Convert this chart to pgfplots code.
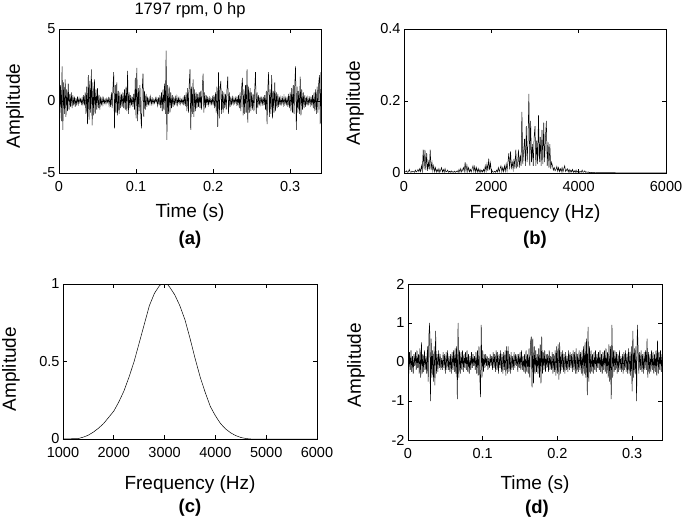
\documentclass[border=0pt]{standalone}
\usepackage{fontspec}
\setmainfont{Liberation Sans}
\usepackage{pgfplots}
\usepackage{pgfplotstable}
\pgfplotsset{compat=1.18}
\newcommand\tickfont{\fontsize{14.5}{16}\selectfont}
\newcommand\labelfont{\fontsize{19}{22}\selectfont}
\newcommand\titlefont{\fontsize{16.5}{18}\selectfont}
\newcommand\panelfont{\fontsize{18.5}{22}\selectfont\bfseries}
\pgfplotsset{
  mystyle/.style={scale only axis, anchor=south west,
    axis line style={line width=0.8pt},
    tick style={black, line width=0.6pt}, major tick length=4pt,
    tick align=inside, tick pos=both,
    ticklabel style={font=\tickfont},
    xticklabel style={yshift=-4.5pt},
    label style={font=\labelfont},
  },
  sig/.style={black, line width=0.5pt, mark=none},
}
\pgfplotstableread[row sep=\\]{
y\\
0.6\\ -0.8\\ 1.1\\ -1.4\\ 2.4\\ -2.0\\ 1.3\\ -0.9\\ 1.5\\ -1.1\\
0.8\\ -0.7\\ 1.2\\ -0.6\\ 0.5\\ -0.4\\ 0.6\\ -0.5\\ 0.4\\ -0.3\\
0.3\\ -0.4\\ 0.2\\ -0.3\\ 0.3\\ -0.2\\ 0.2\\ -0.1\\ 0.15\\ -0.2\\
0.2\\ -0.3\\ 0.4\\ -0.3\\ 0.6\\ -0.9\\ 1.0\\ -1.6\\ 1.8\\ -1.3\\
1.4\\ -0.8\\ 2.2\\ -1.7\\ 1.3\\ -1.0\\ 1.5\\ -0.9\\ 0.8\\ -0.6\\
0.9\\ -0.5\\ 0.4\\ -0.6\\ 0.3\\ -0.3\\ 0.2\\ -0.25\\ 0.2\\ -0.15\\
0.1\\ -0.2\\ 0.15\\ -0.1\\ 0.2\\ -0.3\\ 0.25\\ -0.4\\ 0.6\\ -0.5\\
0.9\\ 2.0\\ -1.9\\ 1.1\\ -0.8\\ 1.3\\ -1.0\\ 0.7\\ -0.9\\ 0.6\\
-0.5\\ 0.5\\ -0.4\\ 0.6\\ -0.5\\ 0.8\\ -0.6\\ 1.0\\ -0.7\\ 2.1\\
-0.9\\ 0.6\\ -0.5\\ 0.4\\ -0.3\\ 0.3\\ -0.4\\ 0.5\\ -0.6\\ 1.6\\
-1.2\\ 2.3\\ -1.4\\ 0.9\\ -0.7\\ 1.1\\ -0.8\\ -1.9\\ 0.8\\ 1.9\\
-1.1\\ 0.7\\ -0.6\\ 0.5\\ -0.4\\ 0.3\\ -0.3\\ 0.2\\ -0.2\\ 0.3\\
-0.2\\ 0.15\\ -0.2\\ 0.1\\ -0.15\\ 0.2\\ -0.1\\ 0.2\\ -0.3\\ 0.25\\
-0.3\\ 0.4\\ -0.5\\ 0.6\\ -0.7\\ 0.8\\ -0.6\\ 1.2\\ -0.9\\ 3.5\\
-2.7\\ 1.1\\ -0.9\\ 1.0\\ -0.8\\ 0.6\\ -0.5\\ 0.4\\ -0.4\\ 0.3\\
-0.3\\ 0.25\\ -0.2\\ 0.3\\ -0.25\\ 0.2\\ -0.15\\ 0.2\\ -0.2\\ 0.1\\
-0.15\\ 0.2\\ -0.3\\ 0.4\\ -0.35\\ 0.6\\ -0.7\\ 0.9\\ -0.8\\ 1.2\\
2.2\\ -2.0\\ 1.0\\ -0.9\\ 1.5\\ -1.1\\ 0.8\\ -0.7\\ 0.6\\ -0.5\\
0.5\\ -0.4\\ 0.6\\ -0.5\\ 0.7\\ -0.6\\ 0.9\\ 1.9\\ -0.8\\ 0.6\\
-0.5\\ 0.4\\ -0.3\\ 0.3\\ -0.25\\ 0.2\\ -0.2\\ 0.15\\ -0.2\\ 0.25\\
-0.3\\ 0.4\\ -0.5\\ 0.6\\ -0.8\\ 1.0\\ -1.8\\ 2.0\\ -1.2\\ 0.9\\
1.4\\ -0.9\\ 0.7\\ -0.8\\ 0.6\\ -0.5\\ 0.5\\ -0.6\\ 0.8\\ 1.7\\
-0.9\\ 0.6\\ -0.4\\ 0.3\\ -0.3\\ 0.25\\ -0.2\\ 0.2\\ -0.15\\ 0.2\\
-0.2\\ 0.3\\ -0.3\\ 0.4\\ -0.5\\ 0.6\\ -0.7\\ 0.9\\ 1.6\\ -1.0\\
0.8\\ -0.9\\ 1.1\\ -0.8\\ 2.2\\ -1.5\\ 1.0\\ -0.8\\ 0.9\\ -0.7\\
0.6\\ -0.6\\ 0.5\\ -0.7\\ 0.8\\ 2.0\\ -0.9\\ 0.6\\ -0.5\\ 0.4\\
-0.3\\ 0.3\\ -0.25\\ 0.2\\ -0.2\\ 0.3\\ -0.3\\ 0.4\\ -0.6\\ 0.7\\
-1.6\\ 0.9\\ 2.0\\ -1.1\\ 0.8\\ -0.9\\ 1.8\\ -1.2\\ 0.7\\ -0.8\\
1.3\\ -0.7\\ 0.6\\ -0.5\\ 0.5\\ -0.4\\ 0.3\\ -0.3\\ 0.25\\ -0.2\\
0.2\\ -0.25\\ 0.3\\ -0.2\\ 0.2\\ -0.3\\ 0.3\\ -0.4\\ 0.5\\ -0.5\\
0.6\\ -0.7\\ 0.9\\ -0.8\\ 1.1\\ -0.9\\ 1.2\\ 2.4\\ -2.0\\ 1.0\\
-0.8\\ 0.7\\ -0.9\\ 1.7\\ -1.0\\ 0.8\\ -0.6\\ 0.6\\ -0.5\\ 0.4\\
-0.4\\ 0.3\\ -0.3\\ 0.25\\ -0.2\\ 0.2\\ -0.25\\ 0.3\\ -0.3\\ 0.4\\
-0.5\\ 0.6\\ -0.7\\ 0.8\\ -0.9\\ 1.0\\ -0.8\\ 1.2\\ 1.8\\ -1.6\\
2.0\\
}\sigA
\pgfplotstableread[row sep=\\]{
y\\
0.002\\ 0.004\\ 0.003\\ 0.006\\ 0.002\\ 0.003\\ 0.01\\ 0.003\\ 0.002\\ 0.005\\
0.003\\ 0.004\\ 0.002\\ 0.008\\ 0.003\\ 0.005\\ 0.01\\ 0.004\\ 0.012\\ 0.004\\
0.02\\ 0.005\\ 0.065\\ 0.01\\ 0.064\\ 0.008\\ 0.055\\ 0.006\\ 0.03\\ 0.01\\
0.065\\ 0.008\\ 0.03\\ 0.006\\ 0.02\\ 0.004\\ 0.015\\ 0.003\\ 0.01\\ 0.003\\
0.012\\ 0.002\\ 0.008\\ 0.015\\ 0.003\\ 0.01\\ 0.002\\ 0.012\\ 0.003\\ 0.004\\
0.008\\ 0.002\\ 0.005\\ 0.002\\ 0.006\\ 0.002\\ 0.004\\ 0.002\\ 0.005\\ 0.002\\
0.004\\ 0.006\\ 0.002\\ 0.01\\ 0.003\\ 0.012\\ 0.003\\ 0.008\\ 0.015\\ 0.004\\
0.03\\ 0.005\\ 0.022\\ 0.004\\ 0.015\\ 0.003\\ 0.01\\ 0.003\\ 0.012\\ 0.02\\
0.004\\ 0.018\\ 0.003\\ 0.015\\ 0.003\\ 0.012\\ 0.002\\ 0.01\\ 0.002\\ 0.008\\
0.003\\ 0.01\\ 0.003\\ 0.02\\ 0.005\\ 0.025\\ 0.006\\ 0.04\\ 0.008\\ 0.028\\
0.004\\ 0.006\\ 0.002\\ 0.003\\ 0.005\\ 0.002\\ 0.008\\ 0.003\\ 0.015\\ 0.003\\
0.012\\ 0.02\\ 0.004\\ 0.015\\ 0.004\\ 0.02\\ 0.005\\ 0.025\\ 0.006\\ 0.03\\
0.055\\ 0.01\\ 0.06\\ 0.015\\ 0.03\\ 0.01\\ 0.04\\ 0.012\\ 0.065\\ 0.015\\
0.02\\ 0.065\\ 0.015\\ 0.05\\ 0.02\\ 0.17\\ 0.025\\ 0.06\\ 0.095\\ 0.02\\
0.13\\ 0.03\\ 0.09\\ 0.22\\ 0.02\\ 0.145\\ 0.03\\ 0.08\\ 0.02\\ 0.1\\
0.13\\ 0.02\\ 0.09\\ 0.025\\ 0.16\\ 0.03\\ 0.1\\ 0.02\\ 0.12\\ 0.025\\
0.14\\ 0.03\\ 0.1\\ 0.145\\ 0.02\\ 0.085\\ 0.015\\ 0.08\\ 0.012\\ 0.03\\
0.02\\ 0.008\\ 0.015\\ 0.006\\ 0.01\\ 0.018\\ 0.005\\ 0.015\\ 0.004\\ 0.012\\
0.004\\ 0.015\\ 0.003\\ 0.012\\ 0.02\\ 0.004\\ 0.008\\ 0.012\\ 0.003\\ 0.01\\
0.002\\ 0.008\\ 0.003\\ 0.01\\ 0.002\\ 0.006\\ 0.002\\ 0.008\\ 0.002\\ 0.005\\
0.006\\ 0.002\\ 0.004\\ 0.002\\ 0.008\\ 0.002\\ 0.003\\ 0.006\\ 0.002\\ 0.003\\
0.002\\ 0.003\\ 0.001\\ 0.002\\ 0.001\\ 0.002\\ 0.001\\ 0.001\\ 0.002\\ 0.001\\
}\specB
\pgfplotstableread[row sep=\\]{
y\\
0.2\\ -0.3\\ 0.25\\ -0.2\\ 0.3\\ -0.25\\ 0.15\\ -0.3\\ 0.2\\ -0.1\\
0.25\\ -0.2\\ 0.3\\ -0.15\\ 0.2\\ -0.3\\ 0.35\\ -0.4\\ 0.5\\ -0.3\\
0.2\\ -0.25\\ 0.3\\ -0.2\\ 0.15\\ -0.3\\ 0.4\\ -0.5\\ 0.7\\ 1.0\\
-1.0\\ 0.6\\ -0.4\\ 0.3\\ -0.5\\ 0.4\\ -0.6\\ 0.8\\ -0.3\\ 0.2\\
-0.25\\ 0.3\\ -0.15\\ 0.2\\ -0.2\\ 0.1\\ -0.2\\ 0.25\\ -0.15\\ 0.2\\
-0.3\\ 0.25\\ -0.2\\ 0.3\\ -0.2\\ 0.15\\ -0.25\\ 0.2\\ -0.3\\ 0.25\\
-0.2\\ 0.3\\ -0.25\\ 0.35\\ -0.3\\ 0.4\\ -0.95\\ 1.0\\ -0.4\\ 0.3\\
-0.3\\ 0.25\\ -0.2\\ 0.3\\ -0.25\\ 0.2\\ -0.15\\ 0.25\\ -0.2\\ 0.3\\
-0.25\\ 0.2\\ -0.3\\ 0.15\\ -0.2\\ 0.25\\ -0.15\\ 0.2\\ -0.1\\ 0.15\\
-0.2\\ 0.25\\ -0.3\\ 0.3\\ -0.35\\ 0.4\\ -0.3\\ -0.9\\ 0.95\\ -0.4\\
0.3\\ -0.25\\ 0.2\\ -0.15\\ 0.2\\ -0.1\\ 0.15\\ -0.2\\ 0.1\\ -0.15\\
0.2\\ -0.1\\ 0.15\\ -0.2\\ 0.25\\ -0.15\\ 0.2\\ -0.25\\ 0.3\\ -0.2\\
0.25\\ -0.3\\ 0.2\\ -0.15\\ 0.3\\ -0.25\\ 0.2\\ -0.3\\ 0.25\\ -0.2\\
0.3\\ -0.35\\ 0.4\\ -0.3\\ 0.4\\ -0.25\\ 0.2\\ -0.3\\ 0.25\\ -0.2\\
0.15\\ -0.2\\ 0.25\\ -0.15\\ 0.2\\ -0.1\\ 0.2\\ -0.25\\ 0.2\\ -0.15\\
0.25\\ -0.2\\ 0.3\\ -0.2\\ 0.15\\ -0.25\\ 0.2\\ -0.3\\ 0.3\\ -0.25\\
0.2\\ -0.3\\ 0.35\\ -0.4\\ 0.5\\ 0.65\\ -0.65\\ 0.6\\ -0.55\\ 0.4\\
-0.3\\ 0.3\\ -0.25\\ 0.2\\ -0.3\\ 0.35\\ -0.4\\ 0.45\\ -0.55\\ 0.65\\
-0.3\\ 0.25\\ -0.2\\ 0.3\\ -0.25\\ 0.2\\ -0.15\\ 0.2\\ -0.25\\ 0.3\\
-0.2\\ 0.15\\ -0.2\\ 0.25\\ -0.3\\ 0.2\\ -0.25\\ 0.3\\ -0.35\\ 0.4\\
-0.3\\ 0.45\\ -0.45\\ 0.5\\ -0.3\\ 0.25\\ -0.2\\ 0.3\\ -0.25\\ 0.2\\
-0.3\\ 0.25\\ -0.2\\ 0.15\\ -0.25\\ 0.3\\ -0.2\\ 0.25\\ -0.15\\ 0.2\\
-0.25\\ 0.3\\ -0.2\\ 0.25\\ -0.3\\ 0.35\\ -0.3\\ 0.2\\ -0.25\\ 0.3\\
-0.2\\ 0.25\\ -0.3\\ 0.3\\ -0.35\\ 0.4\\ -0.3\\ 0.5\\ -0.4\\ 0.6\\
-0.85\\ 0.9\\ -0.5\\ 0.4\\ -0.3\\ 0.3\\ -0.25\\ 0.2\\ -0.3\\ 0.25\\
-0.2\\ 0.3\\ -0.25\\ 0.2\\ -0.15\\ 0.25\\ -0.2\\ 0.3\\ -0.25\\ 0.2\\
-0.3\\ 0.25\\ -0.2\\ 0.3\\ -0.25\\ 0.35\\ -0.3\\ 0.25\\ -0.4\\ 0.45\\
-0.5\\ 0.4\\ -0.95\\ 0.95\\ -0.4\\ 0.3\\ -0.25\\ 0.3\\ -0.2\\ 0.25\\
-0.3\\ 0.2\\ -0.25\\ 0.3\\ -0.2\\ 0.15\\ -0.25\\ 0.2\\ -0.3\\ 0.25\\
-0.2\\ 0.3\\ -0.25\\ 0.2\\ -0.3\\ 0.35\\ -0.3\\ 0.25\\ -0.35\\ 0.4\\
-0.75\\ 0.8\\ -0.4\\ 0.35\\ -0.3\\ 0.4\\ -1.0\\ 0.95\\ 0.35\\ -0.3\\
0.25\\ -0.2\\ 0.3\\ -0.25\\ 0.2\\ -0.3\\ 0.25\\ -0.2\\ 0.3\\ -0.2\\
0.6\\ -0.4\\ 0.25\\ -0.3\\ 0.2\\ -0.25\\ 0.3\\ -0.2\\ 0.25\\ -0.3\\
0.2\\ -0.25\\ 0.3\\ -0.35\\ 0.55\\ -0.3\\ 0.25\\ -0.2\\ 0.3\\ -0.25\\
0.2\\
}\sigD
\begin{document}
\begin{tikzpicture}
\useasboundingbox (0,0) rectangle (685pt,523pt);
% (a)
\begin{axis}[mystyle, at={(59pt,350pt)}, width=262pt, height=144pt,
  xmin=0, xmax=0.34, ymin=-5, ymax=5,
  xtick={0,0.1,0.2,0.3}, xticklabels={0,0.1,0.2,0.3},
  ytick={-5,0,5}, yticklabels={-5,0,5},
  xlabel={Time (s)}, ylabel={Amplitude},
  xlabel style={at={(axis description cs:0.5,0)}, anchor=center, yshift=-40pt},
  ylabel style={at={(axis description cs:-0.168,0.465)}, anchor=center},
  title={1797 rpm, 0 hp},
  title style={at={(axis description cs:0.5,1)}, anchor=center, yshift=13pt, font=\titlefont}]
\addplot[sig] table[x expr=\coordindex*0.001, y=y] {\sigA};
\end{axis}
% (b)
\begin{axis}[mystyle, at={(404pt,350pt)}, width=262pt, height=144pt,
  xmin=0, xmax=6000, ymin=0, ymax=0.4,
  xtick={0,2000,4000,6000}, xticklabels={0,2000,4000,6000},
  ytick={0,0.2,0.4}, yticklabels={0,0.2,0.4},
  xlabel={Frequency (Hz)}, ylabel={Amplitude},
  xlabel style={at={(axis description cs:0.5,0)}, anchor=center, yshift=-41pt},
  ylabel style={at={(axis description cs:-0.187,0.486)}, anchor=center}]
\addplot[sig] table[x expr=\coordindex*20, y=y] {\specB};
\addplot[sig] coordinates {(4380,0.001) (4600,0.001) (5000,0.0005) (6000,0.0005)};
\end{axis}
% (c)
\begin{axis}[mystyle, at={(63pt,84pt)}, width=254pt, height=155pt,
  xmin=1000, xmax=6000, ymin=0, ymax=1,
  xtick={1000,2000,3000,4000,5000,6000}, xticklabels={1000,2000,3000,4000,5000,6000},
  ytick={0,0.5,1}, yticklabels={0,0.5,1},
  xlabel={Frequency (Hz)}, ylabel={Amplitude},
  xlabel style={at={(axis description cs:0.5,0)}, anchor=center, yshift=-46pt},
  ylabel style={at={(axis description cs:-0.205,0.45)}, anchor=center}]
\addplot[sig] coordinates {(1000,0) (1300,0.003) (1400,0.012) (1500,0.025) (1600,0.045)
 (1700,0.07) (1800,0.10) (1900,0.14) (2000,0.18) (2100,0.24) (2200,0.31) (2300,0.40)
 (2400,0.50) (2500,0.62) (2600,0.74) (2700,0.86) (2800,0.94) (2900,0.99) (2950,1.0)
 (3050,1.0) (3100,0.98) (3200,0.93) (3300,0.86) (3400,0.77) (3500,0.65) (3600,0.52)
 (3700,0.40) (3800,0.30) (3900,0.21) (4000,0.15) (4100,0.10) (4200,0.065) (4300,0.04)
 (4400,0.022) (4500,0.01) (4600,0.003) (4700,0) (6000,0)};
\end{axis}
% (d)
\begin{axis}[mystyle, at={(408pt,83pt)}, width=254pt, height=156pt,
  xmin=0, xmax=0.34, ymin=-2, ymax=2,
  xtick={0,0.1,0.2,0.3}, xticklabels={0,0.1,0.2,0.3},
  ytick={-2,-1,0,1,2}, yticklabels={-2,-1,0,1,2},
  xlabel={Time (s)}, ylabel={Amplitude},
  xlabel style={at={(axis description cs:0.5,0)}, anchor=center, yshift=-45pt},
  ylabel style={at={(axis description cs:-0.205,0.48)}, anchor=center}]
\addplot[sig] table[x expr=\coordindex*0.001, y=y] {\sigD};
\end{axis}
\node[font=\panelfont] at (190pt,283pt) {(a)};
\node[font=\panelfont] at (535pt,283pt) {(b)};
\node[font=\panelfont] at (190pt,15pt) {(c)};
\node[font=\panelfont] at (537pt,14pt) {(d)};
\end{tikzpicture}
\end{document}
